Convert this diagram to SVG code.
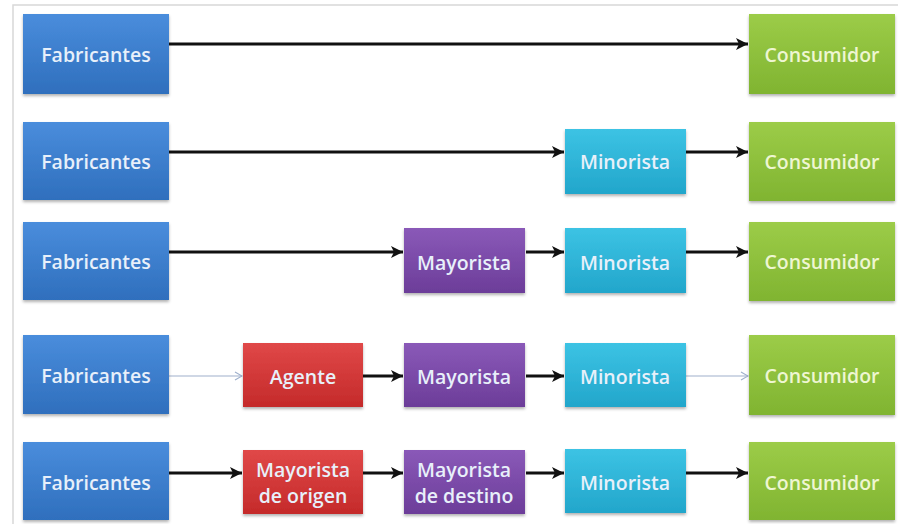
<svg xmlns="http://www.w3.org/2000/svg" width="898" height="524" viewBox="0 0 898 524">
<defs>
<linearGradient id="gBlue" x1="0" y1="0" x2="0" y2="1"><stop offset="0" stop-color="#4a8ddc"/><stop offset="1" stop-color="#2f6fbd"/></linearGradient>
<linearGradient id="gCyan" x1="0" y1="0" x2="0" y2="1"><stop offset="0" stop-color="#3cc3e4"/><stop offset="1" stop-color="#22a6cb"/></linearGradient>
<linearGradient id="gPurple" x1="0" y1="0" x2="0" y2="1"><stop offset="0" stop-color="#8a59b8"/><stop offset="1" stop-color="#6c3d99"/></linearGradient>
<linearGradient id="gRed" x1="0" y1="0" x2="0" y2="1"><stop offset="0" stop-color="#e04848"/><stop offset="1" stop-color="#c42a2a"/></linearGradient>
<linearGradient id="gGreen" x1="0" y1="0" x2="0" y2="1"><stop offset="0" stop-color="#9ccc48"/><stop offset="1" stop-color="#80b431"/></linearGradient>
<filter id="sh" x="-10%" y="-10%" width="120%" height="130%"><feDropShadow dx="0" dy="2" stdDeviation="1.5" flood-color="#000" flood-opacity="0.3"/></filter>
<marker id="ah" markerWidth="14" markerHeight="14" refX="13" refY="7" orient="auto" markerUnits="userSpaceOnUse"><path d="M1,1 L13,7 L1,13 L4,7 Z" fill="#111"/></marker>
<marker id="ahl" markerWidth="10" markerHeight="10" refX="9" refY="5" orient="auto" markerUnits="userSpaceOnUse"><path d="M2,1 L9,5 L2,9" fill="none" stroke="#9fb0cc" stroke-width="1.2"/></marker>
<style>
.box{filter:url(#sh);}
.b{fill:url(#gBlue);}
.c{fill:url(#gCyan);}
.p{fill:url(#gPurple);}
.r{fill:url(#gRed);}
.g{fill:url(#gGreen);}
text{font-family:"Open Sans","Liberation Sans",sans-serif;font-size:19.5px;font-weight:600;text-anchor:middle;dominant-baseline:central;}
.tw{fill:#e8f0fa;}
.tg{fill:#eef6d2;}
.ar{stroke:#111;stroke-width:3;fill:none;marker-end:url(#ah);}
.al{stroke:#9fb0cc;stroke-width:1.2;fill:none;marker-end:url(#ahl);}
</style>
</defs>
<rect x="0" y="0" width="898" height="524" fill="#fff"/>
<path d="M13,524 V5 H898" fill="none" stroke="#d8d8d8" stroke-width="1.5"/>

<g id="connectors">
<line class="ar" x1="169" y1="44" x2="748" y2="44"/>
<line class="ar" x1="169" y1="152" x2="564" y2="152"/>
<line class="ar" x1="686" y1="152" x2="748" y2="152"/>
<line class="ar" x1="169" y1="252" x2="403" y2="252"/>
<line class="ar" x1="526" y1="252" x2="564" y2="252"/>
<line class="ar" x1="686" y1="252" x2="748" y2="252"/>
<line class="al" x1="169" y1="376" x2="242" y2="376"/>
<line class="ar" x1="363" y1="376" x2="403" y2="376"/>
<line class="ar" x1="526" y1="376" x2="564" y2="376"/>
<line class="al" x1="686" y1="376" x2="748" y2="376"/>
<line class="ar" x1="169" y1="473" x2="242" y2="473"/>
<line class="ar" x1="363" y1="473" x2="403" y2="473"/>
<line class="ar" x1="526" y1="473" x2="564" y2="473"/>
<line class="ar" x1="686" y1="473" x2="748" y2="473"/>
</g>

<g id="fab1"><rect class="box b" x="23" y="14" width="146" height="80"/><text class="tw" x="96" y="54">Fabricantes</text></g>
<g id="con1"><rect class="box g" x="749" y="14" width="146" height="80"/><text class="tg" x="822" y="54">Consumidor</text></g>

<g id="fab2"><rect class="box b" x="23" y="122" width="146" height="78"/><text class="tw" x="96" y="161">Fabricantes</text></g>
<g id="min2"><rect class="box c" x="565" y="129" width="121" height="65"/><text class="tw" x="625" y="161">Minorista</text></g>
<g id="con2"><rect class="box g" x="749" y="122" width="146" height="79"/><text class="tg" x="822" y="161">Consumidor</text></g>

<g id="fab3"><rect class="box b" x="23" y="222" width="146" height="78"/><text class="tw" x="96" y="261">Fabricantes</text></g>
<g id="may3"><rect class="box p" x="404" y="228" width="121" height="65"/><text class="tw" x="464" y="262">Mayorista</text></g>
<g id="min3"><rect class="box c" x="565" y="228" width="121" height="65"/><text class="tw" x="625" y="262">Minorista</text></g>
<g id="con3"><rect class="box g" x="749" y="222" width="146" height="79"/><text class="tg" x="822" y="261">Consumidor</text></g>

<g id="fab4"><rect class="box b" x="23" y="335" width="146" height="79"/><text class="tw" x="96" y="375">Fabricantes</text></g>
<g id="age4"><rect class="box r" x="243" y="343" width="120" height="64"/><text class="tw" x="303" y="376">Agente</text></g>
<g id="may4"><rect class="box p" x="404" y="343" width="121" height="64"/><text class="tw" x="464" y="376">Mayorista</text></g>
<g id="min4"><rect class="box c" x="565" y="343" width="121" height="64"/><text class="tw" x="625" y="376">Minorista</text></g>
<g id="con4"><rect class="box g" x="749" y="335" width="146" height="80"/><text class="tg" x="822" y="375">Consumidor</text></g>

<g id="fab5"><rect class="box b" x="23" y="442" width="146" height="78"/><text class="tw" x="96" y="482">Fabricantes</text></g>
<g id="mo5"><rect class="box r" x="243" y="450" width="120" height="64"/><text class="tw" x="303" y="469">Mayorista</text><text class="tw" x="303" y="495">de origen</text></g>
<g id="md5"><rect class="box p" x="404" y="450" width="121" height="64"/><text class="tw" x="464" y="469">Mayorista</text><text class="tw" x="464" y="495">de destino</text></g>
<g id="min5"><rect class="box c" x="565" y="449" width="121" height="64"/><text class="tw" x="625" y="482">Minorista</text></g>
<g id="con5"><rect class="box g" x="749" y="442" width="146" height="78"/><text class="tg" x="822" y="482">Consumidor</text></g>
</svg>
